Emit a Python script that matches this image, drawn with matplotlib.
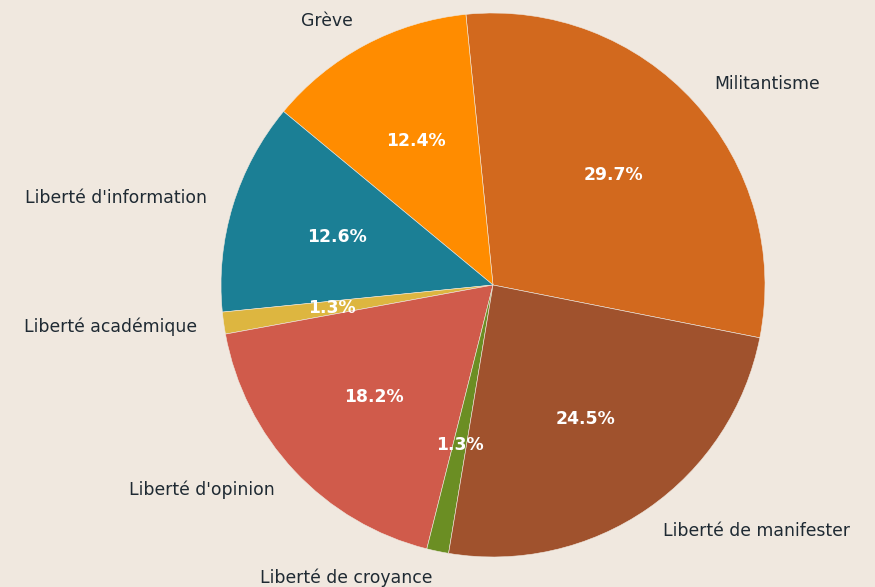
import matplotlib
matplotlib.use("Agg")
import matplotlib.pyplot as plt

labels = ["Militantisme", "Grève", "Liberté d'information", "Liberté académique",
          "Liberté d'opinion", "Liberté de croyance", "Liberté de manifester"]
shares = [29.7, 12.4, 12.6, 1.3, 18.2, 1.3, 24.5]
colors = ["#D2691E", "#FF8C00", "#1B7F95", "#DDB640",
          "#D05B4B", "#6B8E23", "#A0522D"]

bg = "#F0E8DF"

fig = plt.figure(figsize=(8.75, 5.87), dpi=100, facecolor=bg)
ax = fig.add_axes([0, 0, 1, 1])
ax.set_facecolor(bg)

wedges, texts, autotexts = ax.pie(
    shares, labels=labels, colors=colors, startangle=-11.2,
    autopct="%1.1f%%", pctdistance=0.6, labeldistance=1.1,
    wedgeprops=dict(edgecolor=bg, linewidth=0.4),
    textprops=dict(fontsize=12.4, color="#1F2A33"))

for t in autotexts:
    t.set_color("white")
    t.set_fontweight("bold")
    t.set_fontsize(12.4)

# centre at (493, 285) px, radius 272 px
r = 272.0
ax.set_aspect("auto")
ax.set_xlim(-493 / r, (875 - 493) / r)
ax.set_ylim(-(587 - 285) / r, 285 / r)
ax.axis("off")

fig.savefig("out.png", dpi=100, facecolor=bg)
